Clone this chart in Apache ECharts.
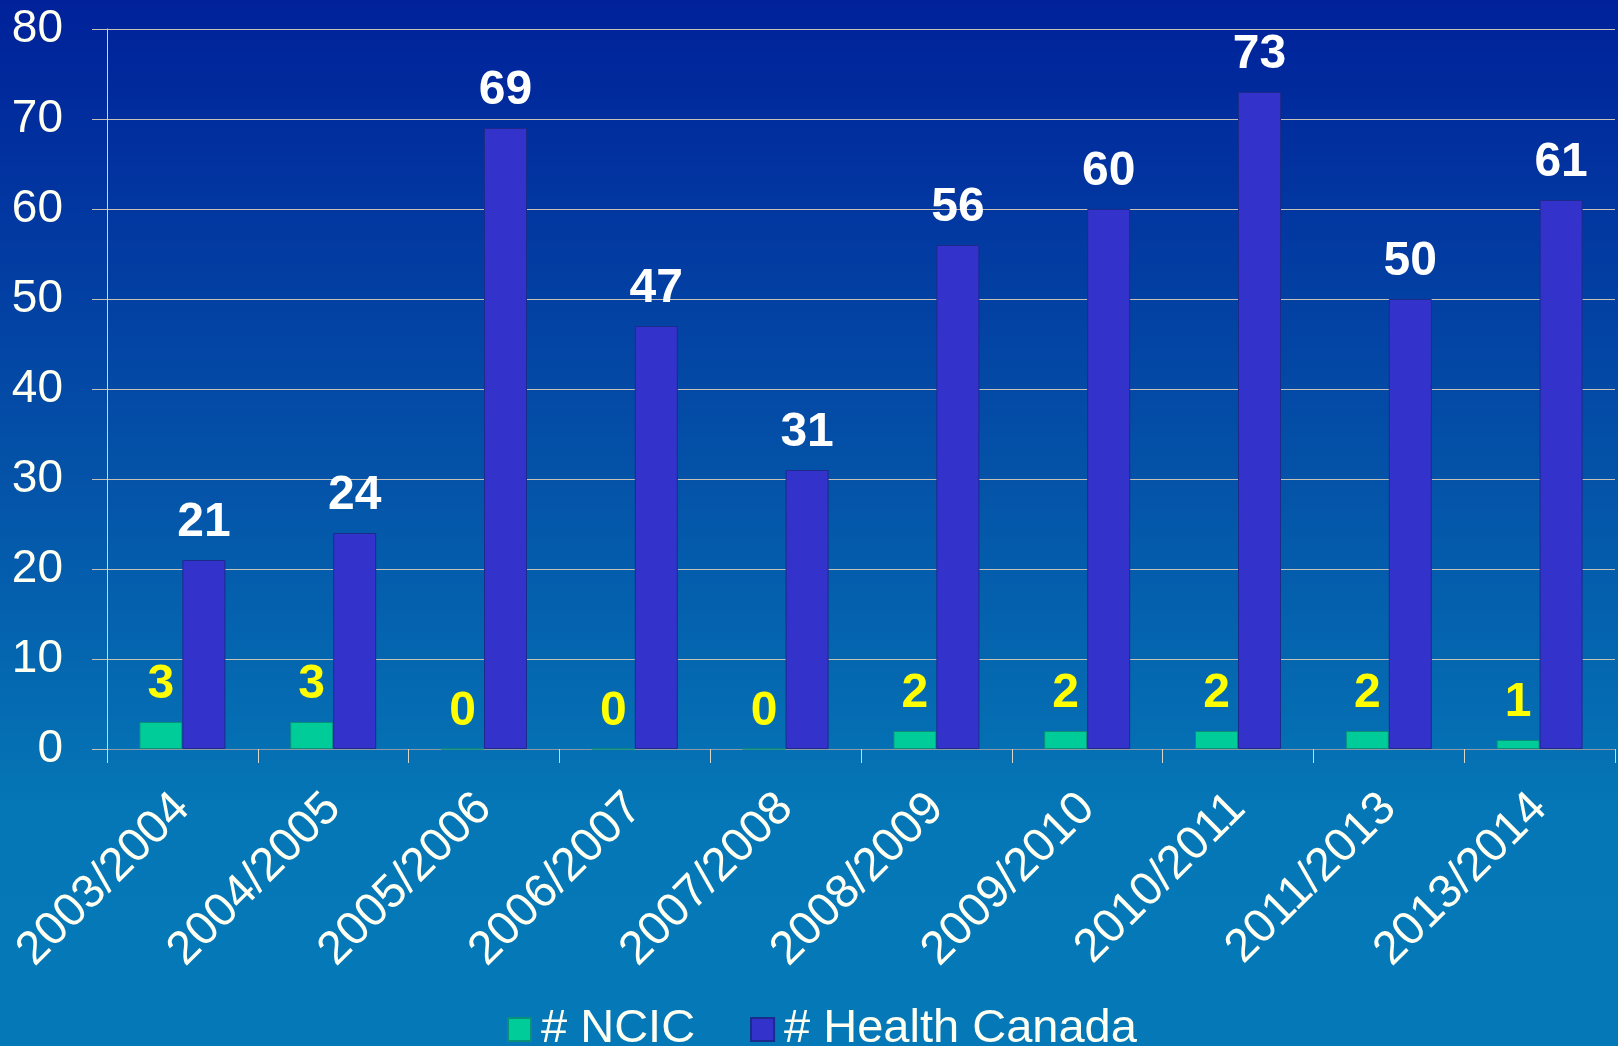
<!DOCTYPE html>
<html>
<head>
<meta charset="utf-8">
<style>
  html, body { margin: 0; padding: 0; background: #0450a8; }
  #chart { width: 1618px; height: 1046px; }
</style>
<script src="https://cdn.jsdelivr.net/npm/echarts@6/dist/echarts.min.js"></script>
</head>
<body>
<div id="chart"></div>
<script>
// Fiscal years
const categories = ['2003/2004', '2004/2005', '2005/2006', '2006/2007', '2007/2008',
                    '2008/2009', '2009/2010', '2010/2011', '2011/2013', '2013/2014'];
// Counts per year
const ncicValues = [3, 3, 0, 0, 0, 2, 2, 2, 2, 1];
const healthCanadaValues = [21, 24, 69, 47, 31, 56, 60, 73, 50, 61];
const seriesNames = ['# NCIC', '# Health Canada'];

const FONT = "'Liberation Sans', Arial, sans-serif";
const TEXT = '#fffff2';
const GRID_LINE = '#c4c2b6';

const chart = echarts.init(document.getElementById('chart'), null, { renderer: 'canvas' });

chart.setOption({
  animation: false,
  backgroundColor: {
    type: 'linear', x: 0, y: 0, x2: 0, y2: 1,
    colorStops: [
      { offset: 0, color: '#00219a' },
      { offset: 0.45, color: '#0452a8' },
      { offset: 0.78, color: '#0577b6' },
      { offset: 1, color: '#0579b8' }
    ]
  },
  grid: { left: 107, right: 3, top: 29, bottom: 297, containLabel: false },
  legend: {
    data: seriesNames,
    left: 502,
    top: 1001,
    itemWidth: 23,
    itemHeight: 23,
    itemGap: 55,
    icon: 'rect',
    textStyle: { color: TEXT, fontSize: 47, fontFamily: FONT, padding: [0, 0, 0, 5] }
  },
  xAxis: {
    type: 'category',
    data: categories,
    boundaryGap: true,
    axisLine: { show: true, lineStyle: { color: '#8c9aa6', width: 1 } },
    axisTick: { show: true, length: 14, lineStyle: { color: '#d8d6c8', width: 1 } },
    axisLabel: {
      rotate: 45,
      margin: 52,
      color: TEXT,
      fontSize: 47,
      fontFamily: FONT,
      interval: 0
    },
    splitLine: { show: false }
  },
  yAxis: {
    type: 'value',
    min: 0,
    max: 80,
    interval: 10,
    axisLine: { show: true, lineStyle: { color: '#d8d6c8', width: 1 } },
    axisTick: { show: true, length: 15, lineStyle: { color: GRID_LINE, width: 1 } },
    axisLabel: { color: TEXT, fontSize: 46, fontFamily: FONT, margin: 44 },
    splitLine: { show: true, lineStyle: { color: GRID_LINE, width: 1 } }
  },
  series: [
    {
      name: seriesNames[0],
      type: 'bar',
      data: ncicValues,
      barWidth: 43,
      barGap: '0%',
      itemStyle: { color: '#00cc99', borderColor: '#0a8f7a', borderWidth: 1 },
      label: {
        show: true,
        position: 'top',
        distance: 13,
        color: '#ffff00',
        fontSize: 48,
        fontWeight: 'bold',
        fontFamily: FONT
      }
    },
    {
      name: seriesNames[1],
      type: 'bar',
      data: healthCanadaValues,
      barWidth: 43,
      barGap: '0%',
      itemStyle: { color: '#3333cc', borderColor: '#1c2a8c', borderWidth: 1 },
      label: {
        show: true,
        position: 'top',
        distance: 13,
        color: '#ffffff',
        fontSize: 48,
        fontWeight: 'bold',
        fontFamily: FONT
      }
    }
  ]
});
</script>
</body>
</html>
